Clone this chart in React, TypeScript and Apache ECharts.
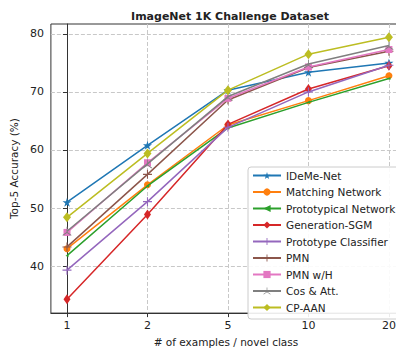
import React, { useEffect, useRef } from "react";
import * as echarts from "echarts";

const categories = ["1", "2", "5", "10", "20"];
const yTicks = [40, 50, 60, 70, 80];

const seriesNames = [
  "IDeMe-Net",
  "Matching Network",
  "Prototypical Network",
  "Generation-SGM",
  "Prototype Classifier",
  "PMN",
  "PMN w/H",
  "Cos & Att.",
  "CP-AAN",
];

const ideme = [51.0, 60.8, 70.3, 73.4, 75.0];
const matching = [43.0, 54.0, 64.3, 68.5, 72.8];
const prototypical = [41.8, 53.8, 63.8, 68.2, 72.3];
const generationSGM = [34.3, 48.9, 64.4, 70.5, 74.5];
const protoClassifier = [39.3, 51.1, 63.9, 70.0, 74.6];
const pmn = [43.3, 55.8, 68.6, 74.2, 77.0];
const pmnWH = [45.8, 57.8, 68.9, 74.3, 77.3];
const cosAtt = [46.0, 57.6, 69.2, 74.8, 78.0];
const cpAan = [48.4, 59.4, 70.3, 76.5, 79.4];

const allValues = [ideme, matching, prototypical, generationSGM, protoClassifier, pmn, pmnWH, cosAtt, cpAan];

const colors = ["#1f77b4", "#ff7f0e", "#2ca02c", "#d62728", "#9467bd", "#8c564b", "#e377c2", "#7f7f7f", "#bcbd22"];

const STAR = "path://M50,0 L61,35 L98,35 L68,57 L79,91 L50,70 L21,91 L32,57 L2,35 L39,35 Z";
const PLUS = "path://M44,0 H56 V44 H100 V56 H56 V100 H44 V56 H0 V44 H44 Z";
const TRI = "path://M46,0 H54 V47 L96,72 L92,79 L50,54 L8,79 L4,72 L46,47 Z";
const LEFT = "path://M0,50 L100,0 L100,100 Z";

const symbols: any[] = [
  { s: STAR, size: 9 },
  { s: "circle", size: 7 },
  { s: LEFT, size: 3 },
  { s: "diamond", size: [7, 10] },
  { s: PLUS, size: 9 },
  { s: PLUS, size: 9 },
  { s: "rect", size: 7 },
  { s: TRI, size: 9 },
  { s: "diamond", size: [8, 10] },
];

export default function App() {
  const ref = useRef<HTMLDivElement>(null);
  useEffect(() => {
    if (!ref.current) return;
    const chart = echarts.init(ref.current, undefined, { renderer: "svg" });
    const font = "DejaVu Sans";
    const series = seriesNames.map((name, i) => ({
      name,
      type: "line",
      data: allValues[i].map((v, j) => [j, v]),
      symbol: symbols[i].s,
      symbolSize: symbols[i].size,
      lineStyle: { width: 1.5, color: colors[i] },
      itemStyle: { color: colors[i] },
      color: colors[i],
      z: 2 + i,
    }));
    chart.setOption({
      animation: false,
      backgroundColor: "#ffffff",
      title: {
        text: "ImageNet 1K Challenge Dataset",
        left: 225,
        textAlign: "center",
        top: 6,
        textStyle: { fontFamily: font, fontSize: 11, fontWeight: "bold", color: "#222" },
      },
      grid: {
        left: 48,
        top: 24,
        right: 3,
        bottom: 32,
        show: true,
        borderColor: "#333",
        borderWidth: 1,
        backgroundColor: "transparent",
      },
      xAxis: {
        type: "value",
        min: -0.2,
        max: 4.15,
        name: "# of examples / novel class",
        nameLocation: "middle",
        nameGap: 20,
        nameTextStyle: { fontFamily: font, fontSize: 10.5, color: "#222" },
        axisLine: { show: true, lineStyle: { color: "#333" } },
        axisTick: { show: true, length: 4, customValues: [0, 1, 2, 3, 4], lineStyle: { color: "#333" } },
        axisLabel: {
          customValues: [0, 1, 2, 3, 4],
          formatter: (v: number) => categories[Math.round(v)] ?? "",
          fontFamily: font,
          fontSize: 11,
          color: "#222",
          margin: 7,
        },
        splitLine: { show: true, lineStyle: { type: "dashed", color: "#c8c8c8" } },
      },
      yAxis: {
        type: "value",
        min: 31.9,
        max: 81.7,
        name: "Top-5 Accuracy (%)",
        nameLocation: "middle",
        nameGap: 26,
        nameTextStyle: { fontFamily: font, fontSize: 10.5, color: "#222" },
        axisLine: { show: true, lineStyle: { color: "#333" } },
        axisTick: { show: true, length: 4, customValues: yTicks, lineStyle: { color: "#333" } },
        axisLabel: {
          customValues: yTicks,
          fontFamily: font,
          fontSize: 11,
          color: "#222",
          margin: 7,
        },
        splitLine: { show: true, lineStyle: { type: "dashed", color: "#c8c8c8" } },
      },
      legend: {
        data: seriesNames,
        orient: "vertical",
        left: 248,
        top: 167,
        itemWidth: 28,
        itemHeight: 9,
        itemGap: 5.5,
        padding: [3, 4, 6, 4],
        backgroundColor: "rgba(255,255,255,0.9)",
        borderColor: "#cccccc",
        borderWidth: 1,
        borderRadius: 3,
        textStyle: { fontFamily: font, fontSize: 10.5, color: "#222" },
      },
      series,
    });
    return () => chart.dispose();
  }, []);
  return <div ref={ref} style={{ width: 404, height: 352, marginLeft: -8, marginTop: -8 }} />;
}
